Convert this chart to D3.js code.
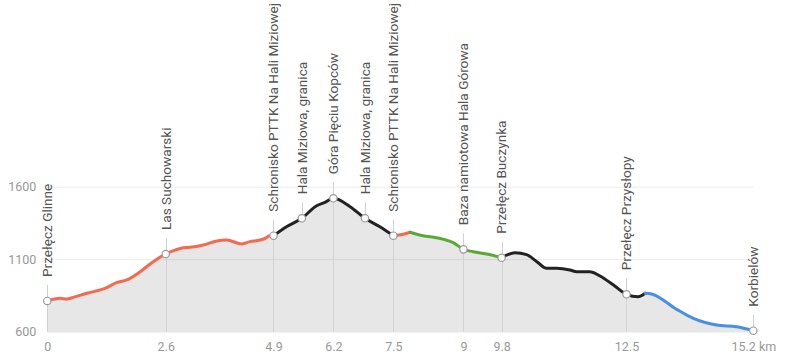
<!DOCTYPE html>
<html><head><meta charset="utf-8">
<script src="https://cdn.jsdelivr.net/npm/d3@7"></script>
<style>body{margin:0;background:#fff}svg{display:block;font-family:Roboto,"Noto Sans",sans-serif}</style>
</head><body><svg id="c" width="790" height="357"></svg>
<script>
// elevation profile (km, m)
const distKm = [0,0.27,0.42,0.56,0.85,1.24,1.49,1.74,2.00,2.28,2.55,2.75,2.93,3.07,3.36,3.65,3.86,4.19,4.36,4.58,4.70,4.78,4.87,
  5.15,5.48,5.80,5.98,6.16,6.52,6.84,7.16,7.45,7.66,7.81,8.09,8.38,8.53,8.74,8.96,9.17,9.49,9.78,
  10.07,10.32,10.54,10.75,10.97,11.25,11.40,11.68,11.90,12.19,12.47,12.72,12.87,13.01,13.55,13.91,14.41,14.84,15.2];
const elevM = [812,830,825,837,865,899,938,961,1014,1083,1136,1163,1179,1182,1198,1226,1232,1205,1221,1232,1245,1262,1262,
  1324,1382,1469,1492,1520,1462,1382,1324,1262,1272,1286,1262,1248,1237,1214,1168,1152,1134,1110,
  1145,1131,1083,1037,1037,1026,1014,1014,984,922,858,841,865,860,754,692,646,634,607];

// waypoints
const wpNames = ["Przełęcz Glinne","Las Suchowarski","Schronisko PTTK Na Hali Miziowej","Hala Miziowa, granica",
  "Góra Pięciu Kopców","Hala Miziowa, granica","Schronisko PTTK Na Hali Miziowej","Baza namiotowa Hala Górowa",
  "Przełęcz Buczynka","Przełęcz Przysłopy","Korbielów"];
const wpKm = [0,2.55,4.87,5.48,6.16,6.84,7.45,8.96,9.78,12.47,15.2];
const wpElev = [812,1136,1262,1382,1520,1382,1262,1168,1110,858,607];
const wpTick = [true,true,true,false,true,false,true,true,true,true,true];
const xTickLabels = ["0","2.6","4.9","","6.2","","7.5","9","9.8","12.5","15.2 km"];
const yTicks = [600,1100,1600];

// trail colour segments
const segStart = [0,4.87,7.45,7.81,9.78,12.87];
const segEnd = [4.87,7.45,7.81,9.78,12.87,15.2];
const segColor = ["#f4694f","#222222","#f4694f","#5aa935","#222222","#4a90e2"];

const svg = d3.select("#c");
const x = d3.scaleLinear().domain([0,15.2]).range([47.3,753.3]);
const y = d3.scaleLinear().domain([600,1600]).range([331.7,186.7]);
const pts = distKm.map((d,i)=>({k:d,e:elevM[i]}));

svg.append("path").datum(pts)
  .attr("fill","#e7e7e7")
  .attr("d", d3.area().x(d=>x(d.k)).y0(y(600)).y1(d=>y(d.e)).curve(d3.curveMonotoneX));

// gridlines
const grid = svg.append("g").attr("transform",`translate(${x(0)},0)`)
  .call(d3.axisLeft(y).tickValues(yTicks).tickSize(-(x(15.2)-x(0))).tickFormat(""));
grid.select(".domain").remove();
grid.selectAll("line").attr("stroke","#000").attr("stroke-opacity",0.08);

// y labels
const ya = svg.append("g").attr("transform",`translate(${x(0)},0)`)
  .call(d3.axisLeft(y).tickValues(yTicks).tickSize(0).tickPadding(11).tickFormat(d3.format("d")));
ya.select(".domain").remove();
ya.selectAll("text").attr("fill","#999").style("font-size","12.5px").style("font-family","Roboto");

// x labels
const tickIdx = wpKm.map((d,i)=>i).filter(i=>wpTick[i]);
const xa = svg.append("g").attr("transform",`translate(0,${y(600)})`)
  .call(d3.axisBottom(x).tickValues(tickIdx.map(i=>wpKm[i])).tickSize(0).tickPadding(10)
    .tickFormat((d,j)=>xTickLabels[tickIdx[j]]));
xa.select(".domain").remove();
xa.selectAll("text").attr("fill","#999").style("font-size","12.5px").style("font-family","Roboto");

// waypoint leader lines
const wps = wpKm.map((d,i)=>({k:d,e:wpElev[i],n:wpNames[i],t:wpTick[i]}));
svg.append("g").selectAll("line").data(wps).join("line")
  .attr("x1",d=>Math.round(x(d.k))+0.5).attr("x2",d=>Math.round(x(d.k))+0.5)
  .attr("y1",d=>y(d.e)-16).attr("y2",d=>d.t?y(600):y(d.e))
  .attr("stroke","#d2d2d2").attr("stroke-width",1);

// coloured trail segments
const line = d3.line().x(d=>x(d.k)).y(d=>y(d.e)).curve(d3.curveMonotoneX);
segStart.forEach((s,i)=>{
  svg.append("path").datum(pts.filter(p=>p.k>=s-1e-9 && p.k<=segEnd[i]+1e-9))
    .attr("fill","none").attr("stroke",segColor[i]).attr("stroke-width",3)
    .attr("stroke-linejoin","round").attr("stroke-linecap","round").attr("d",line);
});

// waypoint markers
svg.append("g").selectAll("circle").data(wps).join("circle")
  .attr("cx",d=>x(d.k)).attr("cy",d=>y(d.e)).attr("r",3.7)
  .attr("fill","#fff").attr("stroke","#9a9a9a").attr("stroke-width",1.2);

// waypoint labels
svg.append("g").selectAll("text").data(wps).join("text")
  .attr("transform",d=>`translate(${x(d.k)},${y(d.e)-24}) rotate(-90)`)
  .attr("dy","0.35em").attr("text-anchor","start")
  .attr("fill","#555").style("font-size","13.6px").style("font-family","Roboto")
  .text(d=>d.n);
</script></body></html>
